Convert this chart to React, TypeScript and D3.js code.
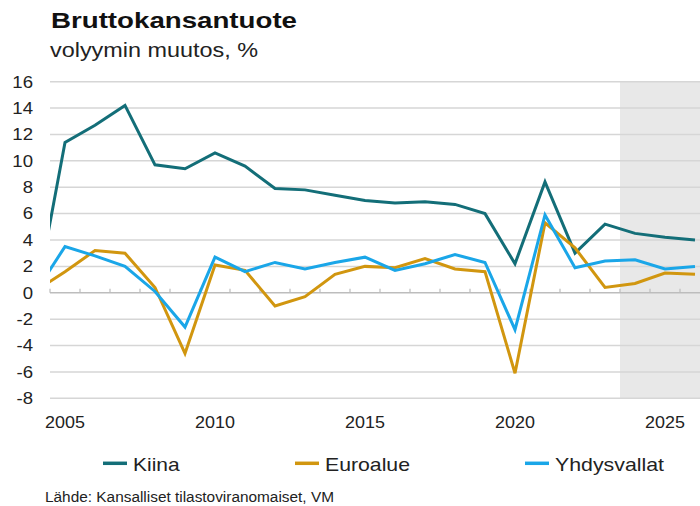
import React from "react";
import * as d3 from "d3";

// ---- data ----
const years = [2004, 2005, 2006, 2007, 2008, 2009, 2010, 2011, 2012, 2013, 2014, 2015, 2016, 2017, 2018, 2019, 2020, 2021, 2022, 2023, 2024, 2025, 2026];
const kiina = [-0.8, 11.4, 12.7, 14.2, 9.7, 9.4, 10.6, 9.6, 7.9, 7.8, 7.4, 7.0, 6.8, 6.9, 6.7, 6.0, 2.2, 8.4, 3.0, 5.2, 4.5, 4.2, 4.0];
const euroalue = [0.1, 1.6, 3.2, 3.0, 0.4, -4.6, 2.1, 1.7, -1.0, -0.3, 1.4, 2.0, 1.9, 2.6, 1.8, 1.6, -6.1, 5.3, 3.4, 0.4, 0.7, 1.5, 1.4];
const yhdysvallat = [0.0, 3.5, 2.8, 2.0, 0.1, -2.6, 2.7, 1.6, 2.3, 1.8, 2.3, 2.7, 1.7, 2.2, 2.9, 2.3, -2.8, 5.9, 1.9, 2.4, 2.5, 1.8, 2.0];
const yTicks = [-8, -6, -4, -2, 0, 2, 4, 6, 8, 10, 12, 14, 16];
const xTickLabels = [2005, 2010, 2015, 2020, 2025];
const forecastStart = 2024;
const seriesNames = ["Kiina", "Euroalue", "Yhdysvallat"];
const seriesColors = ["#136e78", "#d1960f", "#1aa6e8"];
const title = "Bruttokansantuote";
const subtitle = "volyymin muutos, %";
const source = "Lähde: Kansalliset tilastoviranomaiset, VM";

const W = 700;
const H = 506;
const plotLeft = 50;
const plotRight = 710;
const plotTop = 81.7;
const plotBottom = 398.3;
const FONT = "'Liberation Sans', Arial, sans-serif";

export default function App() {
  const x = d3.scaleLinear().domain([2004.5, 2026.5]).range([plotLeft, plotRight]);
  const y = d3.scaleLinear().domain([-8, 16]).range([plotBottom, plotTop]);
  const seriesData = [kiina, euroalue, yhdysvallat];
  const line = d3
    .line<number>()
    .x((_, i) => x(years[i]))
    .y((d) => y(d));
  const boundaries = d3.range(2004.5, 2026.6, 1);
  const legendX = [103, 295, 525];
  const legendTextW = [46.6, 85, 109];

  return (
    <svg
      width={W}
      height={H}
      viewBox={`0 0 ${W} ${H}`}
      style={{ position: "absolute", left: 0, top: 0, display: "block", background: "#fff" }}
      fontFamily={FONT}
    >
      <defs>
        <clipPath id="plotClip">
          <rect x={plotLeft} y={0} width={plotRight - plotLeft} height={H} />
        </clipPath>
      </defs>
      {/* forecast shading */}
      <rect
        x={x(forecastStart - 0.5)}
        y={plotTop}
        width={plotRight - x(forecastStart - 0.5)}
        height={plotBottom - plotTop}
        fill="#e8e8e8"
      />
      {/* gridlines */}
      {yTicks.filter((t) => t !== 0).map((t) => (
        <line key={t} x1={plotLeft} x2={plotRight} y1={y(t)} y2={y(t)} stroke="#d6d6d6" strokeWidth={1.5} />
      ))}
      {/* zero axis */}
      <line x1={plotLeft} x2={plotRight} y1={y(0)} y2={y(0)} stroke="#bdbdbd" strokeWidth={1.5} />
      {boundaries.map((b) => (
        <line key={b} x1={x(b)} x2={x(b)} y1={y(0) - 4} y2={y(0)} stroke="#bdbdbd" strokeWidth={1.2} />
      ))}
      {/* y labels */}
      {yTicks.map((t) => (
        <text
          key={t}
          transform={`translate(33,${y(t) + 5.8}) scale(1.14,1)`}
          textAnchor="end"
          fontSize={16.3}
          fill="#222"
        >
          {t}
        </text>
      ))}
      {/* x labels */}
      {xTickLabels.map((t) => (
        <text
          key={t}
          transform={`translate(${x(t)},428) scale(1.12,1)`}
          textAnchor="middle"
          fontSize={16}
          fill="#222"
        >
          {t}
        </text>
      ))}
      {/* lines */}
      <g clipPath="url(#plotClip)">
        {seriesData.map((s, i) => (
          <path
            key={i}
            d={line(s) || ""}
            fill="none"
            stroke={seriesColors[i]}
            strokeWidth={3}
            strokeLinejoin="miter"
          />
        ))}
      </g>
      {/* title */}
      <text x={51} y={28.3} fontSize={22} fontWeight="bold" fill="#111" textLength={246} lengthAdjust="spacingAndGlyphs">
        {title}
      </text>
      <text x={50} y={56.5} fontSize={20} fill="#222" textLength={208} lengthAdjust="spacingAndGlyphs">
        {subtitle}
      </text>
      {/* legend */}
      {seriesNames.map((n, i) => (
        <g key={n}>
          <line x1={legendX[i]} x2={legendX[i] + 24} y1={463.3} y2={463.3} stroke={seriesColors[i]} strokeWidth={3.5} />
          <text x={legendX[i] + 30} y={471} fontSize={18.5} fill="#222" textLength={legendTextW[i]} lengthAdjust="spacingAndGlyphs">
            {n}
          </text>
        </g>
      ))}
      {/* source */}
      <text x={45} y={501.5} fontSize={14} fill="#222" textLength={289} lengthAdjust="spacingAndGlyphs">
        {source}
      </text>
    </svg>
  );
}
